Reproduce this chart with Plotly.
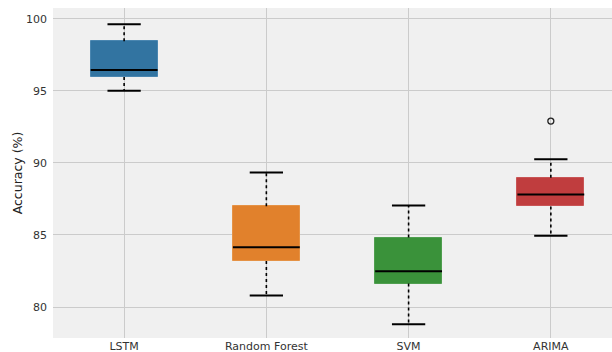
import plotly.graph_objects as go

# Accuracy distributions per model (box statistics)
models = ["LSTM", "Random Forest", "SVM", "ARIMA"]
lower_whisker = [95.0, 80.8, 78.8, 84.95]
q1 = [95.97, 83.2, 81.63, 86.98]
median = [96.45, 84.15, 82.48, 87.81]
q3 = [98.45, 87.0, 84.82, 88.97]
upper_whisker = [99.63, 89.34, 87.05, 90.25]
outlier_model = ["ARIMA"]
outlier_value = [92.9]

colors = ["#3274a1", "#e1812c", "#3a923a", "#c03d3e"]
edge_colors = ["#4a86b0", "#e59245", "#4f9e4f", "#c85455"]

pos = list(range(len(models)))
box_w = 0.47
cap_half = 0.117

fig = go.Figure()

# boxes (q1..q3)
fig.add_trace(go.Bar(
    x=pos, base=q1, y=[b - a for a, b in zip(q1, q3)], width=box_w,
    marker=dict(color=colors, line=dict(color=edge_colors, width=1)),
    hoverinfo="skip", showlegend=False,
))

# dotted whiskers
wx, wy = [], []
for i in pos:
    wx += [i, i, None, i, i, None]
    wy += [q3[i], upper_whisker[i], None, q1[i], lower_whisker[i], None]
fig.add_trace(go.Scatter(x=wx, y=wy, mode="lines",
                         line=dict(color="black", width=1.6, dash="dot"),
                         hoverinfo="skip", showlegend=False))

# caps
cx, cy = [], []
for i in pos:
    for v in (upper_whisker[i], lower_whisker[i]):
        cx += [i - cap_half, i + cap_half, None]
        cy += [v, v, None]
fig.add_trace(go.Scatter(x=cx, y=cy, mode="lines",
                         line=dict(color="black", width=2),
                         hoverinfo="skip", showlegend=False))

# medians
mx, my = [], []
for i in pos:
    mx += [i - box_w / 2, i + box_w / 2, None]
    my += [median[i], median[i], None]
fig.add_trace(go.Scatter(x=mx, y=my, mode="lines",
                         line=dict(color="black", width=2),
                         hoverinfo="skip", showlegend=False))

# outliers
fig.add_trace(go.Scatter(
    x=[models.index(m) for m in outlier_model], y=outlier_value, mode="markers",
    marker=dict(symbol="circle-open", size=6, color="#222222", line=dict(width=1.3)),
    hoverinfo="skip", showlegend=False))

fig.update_layout(
    width=612, height=352,
    margin=dict(l=53, r=0, t=8, b=14),
    paper_bgcolor="white", plot_bgcolor="#f0f0f0",
    font=dict(family="DejaVu Sans", size=11, color="#333333"),
    bargap=0,
)
fig.update_xaxes(
    range=[-0.5, 3.43], tickmode="array", tickvals=pos, ticktext=models,
    showgrid=True, gridcolor="#cbcbcb", gridwidth=1, zeroline=False,
    ticks="", ticklabelstandoff=0, showline=False,
)
fig.update_yaxes(
    range=[77.85, 100.75], tickvals=[80, 85, 90, 95, 100],
    showgrid=True, gridcolor="#cbcbcb", gridwidth=1, zeroline=False,
    ticks="", ticklabelstandoff=5, showline=False,
    title=dict(text="Accuracy (%)", font=dict(size=12.5, color="#222222"), standoff=0),
)

fig.write_html("out.html")
